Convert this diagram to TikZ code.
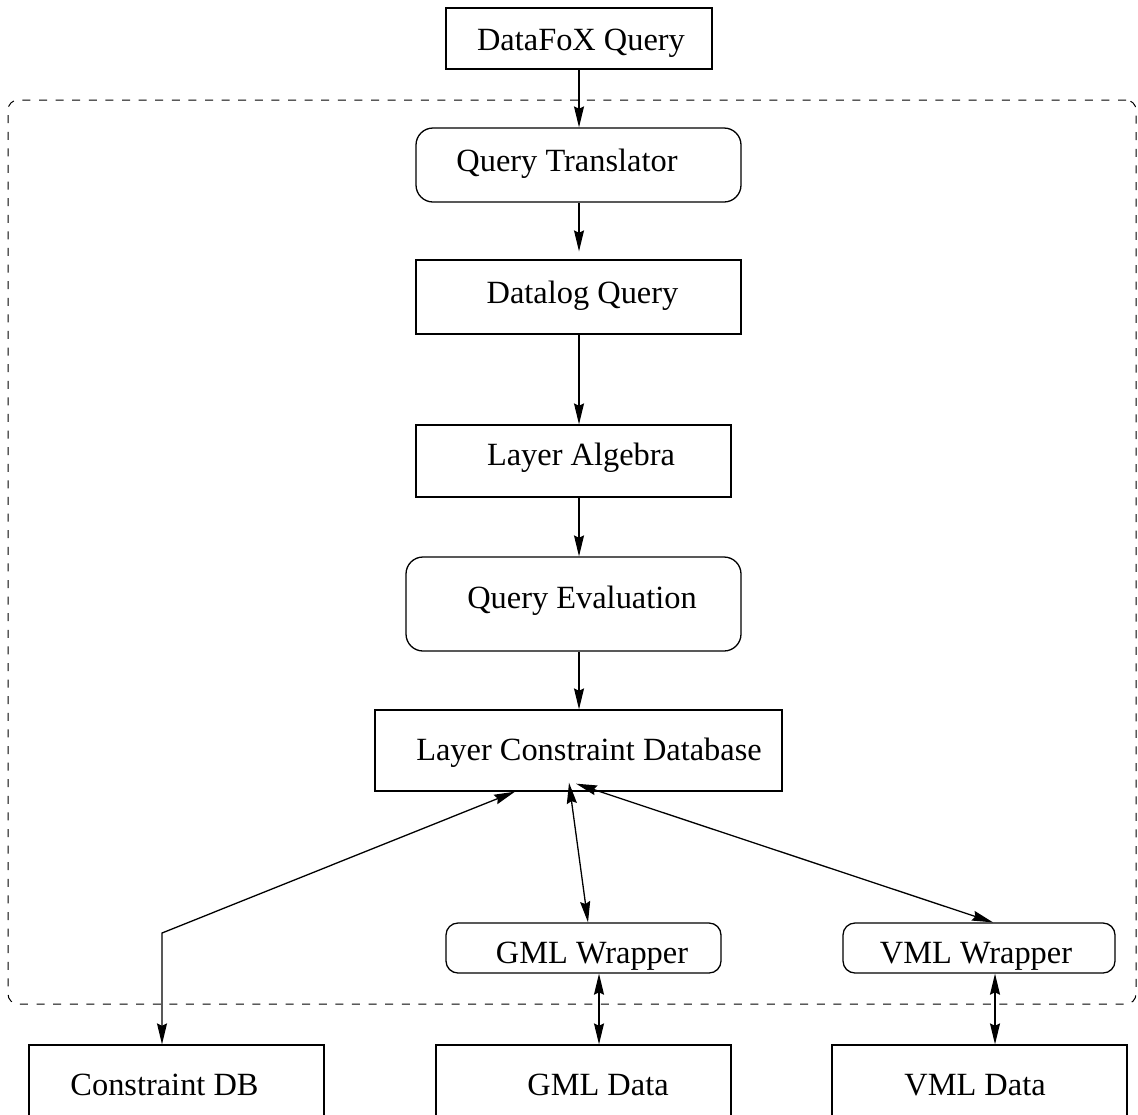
\documentclass[tikz,border=0pt]{standalone}
\usepackage{fontspec}
\setmainfont{Liberation Serif}
\usetikzlibrary{arrows.meta,calc}

\begin{document}
\begin{tikzpicture}[
  x=0.5pt, y=-0.5pt,
  every path/.style={line width=0.65pt},
  >={Stealth[length=10.5pt,width=5pt,inset=1.2pt]},
  box/.style={draw, rectangle, inner sep=0pt},
  rbox/.style={box, rounded corners=#1},
  rbox/.default=8.5pt,
  lbl/.style={anchor=base, inner sep=0pt, font=\fontsize{16.2}{19}\selectfont},
  frame/.style={draw, dashed, dash pattern=on 4pt off 4.3pt, line width=0.5pt, rounded corners=5pt, inner sep=0pt}
]
\useasboundingbox (0,0) rectangle (1138,1114);

% dashed system boundary
\node[frame, minimum width=564pt, minimum height=452pt] (sys) at (572,552) {};

% boxes
\node[box,  minimum width=133pt,   minimum height=30.5pt] (dfx) at (579,38.5) {};
\node[rbox, minimum width=162.5pt, minimum height=37pt]   (qt)  at (578.5,165) {};
\node[box,  minimum width=162.5pt, minimum height=37pt]   (dq)  at (578.5,297) {};
\node[box,  minimum width=157.5pt, minimum height=36pt]   (la)  at (573.5,461) {};
\node[rbox, minimum width=167.5pt, minimum height=47pt]   (qe)  at (573.5,604) {};
\node[box,  minimum width=203.5pt, minimum height=40.5pt] (lcd) at (578.5,750.5) {};
\node[rbox=6pt, minimum width=137.5pt, minimum height=25pt] (gw) at (583.5,948) {};
\node[rbox=6pt, minimum width=136pt,   minimum height=25pt] (vw) at (979,948) {};
\node[box,  minimum width=147.5pt, minimum height=37.5pt] (cdb) at (176.5,1082.5) {};
\node[box,  minimum width=147.5pt, minimum height=37.5pt] (gd)  at (583.5,1082.5) {};
\node[box,  minimum width=147.5pt, minimum height=37.5pt] (vd)  at (979.5,1082.5) {};

% labels
\node[lbl] (tdfx) at (581,50)   {DataFoX Query};
\node[lbl] (tqt)  at (567,171)  {Query Translator};
\node[lbl] (tdq)  at (582.5,303) {Datalog Query};
\node[lbl] (tla)  at (581,465)  {Layer Algebra};
\node[lbl] (tqe)  at (582,608)  {Query Evaluation};
\node[lbl] (tlcd) at (589,760)  {Layer Constraint Database};
\node[lbl] (tgw)  at (592,963)  {GML Wrapper};
\node[lbl] (tvw)  at (976,963)  {VML Wrapper};
\node[lbl] (tcdb) at (164.5,1095) {Constraint DB};
\node[lbl] (tgd)  at (598,1095) {GML Data};
\node[lbl] (tvd)  at (975,1095) {VML Data};

% helper points
\coordinate (spine) at (579,0);
\coordinate (bend) at (162,933);
\coordinate (fanL) at ($(lcd.south -| 569,0)+(0,-9)$);
\coordinate (fanR) at ($(lcd.south -| 576,0)+(0,-8)$);

% main query pipeline
\draw[->] (spine |- dfx.south) -- (spine |- qt.north);
\draw[->] (spine |- qt.south) -- ($(spine |- dq.north)+(0,-8)$);
\draw[->] (spine |- dq.south) -- (spine |- la.north);
\draw[->] (spine |- la.south) -- (spine |- qe.north);
\draw[->] (spine |- qe.south) -- (spine |- lcd.north);

% database links
\draw[<->] (lcd.south -| 515,0) -- (bend) -- (bend |- cdb.north);
\draw[<->] (fanL) -- (gw.north -| 588,0);
\draw[<->] (fanR) -- (vw.north -| 993,0);
\draw[<->] (gw.south -| 599,0) -- (gd.north -| 599,0);
\draw[<->] (vw.south -| 995,0) -- (vd.north -| 995,0);
\end{tikzpicture}
\end{document}
